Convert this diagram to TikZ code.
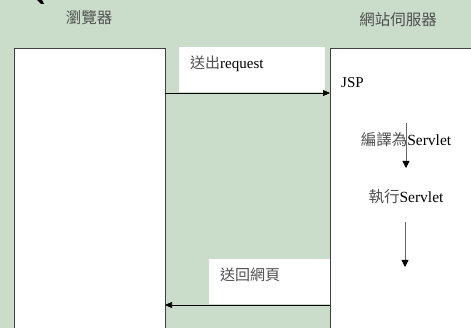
\documentclass[tikz,border=0pt]{standalone}
\usepackage{fontspec}
\setmainfont{Liberation Serif}
\newfontfamily\cjk{Noto Sans CJK TC}
\usetikzlibrary{arrows.meta}
\definecolor{bggreen}{RGB}{202,221,202}
\definecolor{cjkgray}{RGB}{80,80,80}
\begin{document}
\begin{tikzpicture}[x=1pt,y=-1pt,
  panel/.style={draw=black!75,line width=0.8pt,fill=white},
  lblbox/.style={fill=white,draw=none},
  header/.style={font=\cjk\fontsize{15.5}{18}\selectfont,text=cjkgray,inner sep=0pt},
  lbl/.style={font=\fontsize{15}{18}\selectfont,inner sep=0pt,anchor=base west},
  ctr/.style={font=\fontsize{15.5}{18}\selectfont,inner sep=0pt,anchor=base},
  flow/.style={-{Triangle[length=7pt,width=6pt]},line width=0.7pt,black},
  vflow/.style={-{Triangle[length=7pt,width=7pt,color=black,fill=black]},line width=0.8pt,draw=black!60}]
\useasboundingbox (0,0) rectangle (471,328);
\fill[bggreen] (0,0) rectangle (471,328);
% top-left fragment
\fill[black] (37,0) -- (42,0) -- (44,4) -- (41,4) -- cycle;
% headers
\node[header] (hb) at (89,18) {瀏覽器};
\node[header] (hs) at (398,20) {網站伺服器};
% panels
\draw[panel] (14,48) rectangle (165,330);
\draw[panel] (330,48) rectangle (473,330);
\coordinate (bR) at (165,93);
\coordinate (sL) at (330,93);
\coordinate (bR2) at (165,305);
\coordinate (sL2) at (330,305);
% label boxes
\fill[lblbox] (179,47) rectangle (325,92);
\fill[lblbox] (209,259) rectangle (330,304);
\node[lbl] (req) at (190,69) {{\cjk\color{cjkgray}送出}request};
\node[lbl] (back) at (220,281) {\cjk\color{cjkgray}送回網頁};
\draw[flow] (bR) -- (sL);
\draw[flow] (sL2) -- (bR2);
% server contents
\node[lbl] (jsp) at (341,88) {JSP};
\node[ctr] (comp) at (406,146) {{\cjk\color{cjkgray}編譯為}Servlet};
\node[ctr] (exec) at (406,203) {{\cjk\color{cjkgray}執行}Servlet};
\coordinate (a1s) at (406,123);
\coordinate (a1e) at (406,168);
\coordinate (a2s) at (405,222);
\coordinate (a2e) at (405,267);
\draw[vflow] (a1s) -- (a1e);
\draw[vflow] (a2s) -- (a2e);
\end{tikzpicture}
\end{document}
